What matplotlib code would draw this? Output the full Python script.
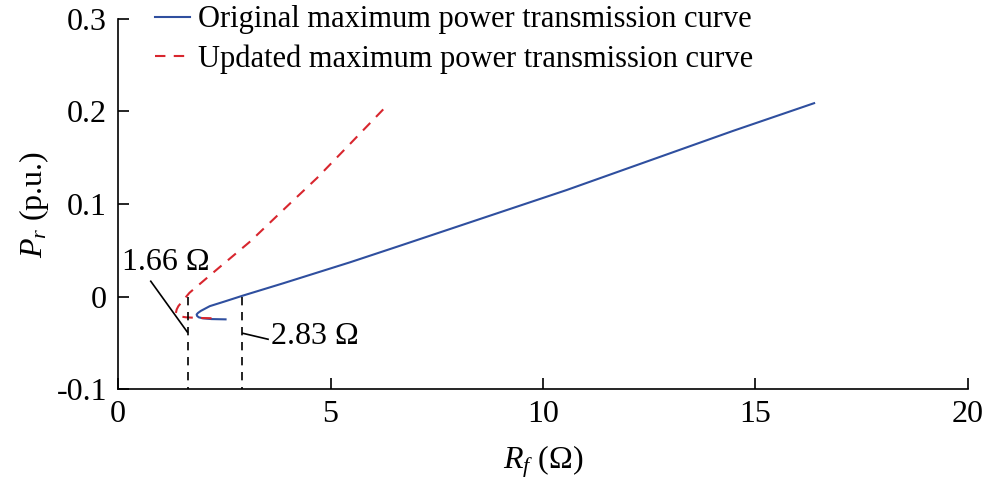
import matplotlib
matplotlib.use('Agg')
import matplotlib.pyplot as plt

plt.rcParams['font.family'] = ['Liberation Serif', 'DejaVu Serif']
plt.rcParams['mathtext.fontset'] = 'custom'
plt.rcParams['mathtext.rm'] = 'Liberation Serif'
plt.rcParams['mathtext.it'] = 'Liberation Serif:italic'

# original curve (lower branch -> nose -> upper branch)
orig_r = [2.53, 2.2, 2.0, 1.9, 1.86, 1.85, 1.88, 1.95, 2.16, 2.5, 2.94, 3.88, 5.46, 6.63, 10.55, 14.47, 16.38]
orig_p = [-0.0247, -0.0244, -0.0236, -0.0225, -0.021, -0.0194, -0.0178, -0.0155, -0.0104, -0.0055, 0.001,
          0.0142, 0.037, 0.0548, 0.115, 0.179, 0.209]

# updated curve
upd_r = [2.2, 1.9, 1.6, 1.45, 1.38, 1.36, 1.38, 1.42, 1.68, 2.32, 3.11, 4.05, 4.68, 5.46, 6.36]
upd_p = [-0.0235, -0.0232, -0.0225, -0.0215, -0.0200, -0.018, -0.014, -0.0104, 0.004, 0.029, 0.0595,
         0.1007, 0.128, 0.165, 0.208]

mark_r = [1.64, 2.92]
mark_lbl = ['1.66 Ω', '2.83 Ω']

fig = plt.figure(figsize=(9.87, 4.87), dpi=100)
ax = fig.add_axes([0.1196, 0.2012, 0.8611, 0.7598])

ax.plot(orig_r, orig_p, color='#2f4f9f', lw=1.5, label='Original maximum power transmission curve')
ax.plot(upd_r, upd_p, color='#d8262e', lw=1.5, ls=(0, (5, 4)), label='Updated maximum power transmission curve')

# dashed markers
for r in mark_r:
    ax.plot([r, r], [0, -0.1], color='black', lw=1.2, ls=(0, (5, 4)))

# leader lines and labels
ax.plot([0.77, 1.63], [0.0165, -0.0384], color='black', lw=1.2)
ax.text(1.13, 0.037, mark_lbl[0], fontsize=23, ha='center', va='center')
ax.plot([2.94, 3.53], [-0.0398, -0.0462], color='black', lw=1.2)
ax.text(3.6, -0.0435, mark_lbl[1], fontsize=23, ha='left', va='center')

ax.set_xlim(0, 20)
ax.set_ylim(-0.1, 0.3)
ax.set_xticks([0, 5, 10, 15, 20])
ax.set_yticks([-0.1, 0, 0.1, 0.2, 0.3])
ax.set_yticklabels(['-0.1', '0', '0.1', '0.2', '0.3'])
ax.tick_params(direction='in', length=8, width=1.2, labelsize=23, pad=8)
for s in ['top', 'right']:
    ax.spines[s].set_visible(False)
for s in ['left', 'bottom']:
    ax.spines[s].set_linewidth(1.2)

ax.set_xlabel(r'$R_f$ (Ω)', fontsize=23, labelpad=10)
ax.set_ylabel(r'$P_r$ (p.u.)', fontsize=23, labelpad=4)

ax.legend(loc='upper left', bbox_to_anchor=(0.029, 1.07), frameon=False, fontsize=22,
          handlelength=1.15, handletextpad=0.25, labelspacing=0.32, borderaxespad=0)

fig.savefig('out.png', dpi=100)
